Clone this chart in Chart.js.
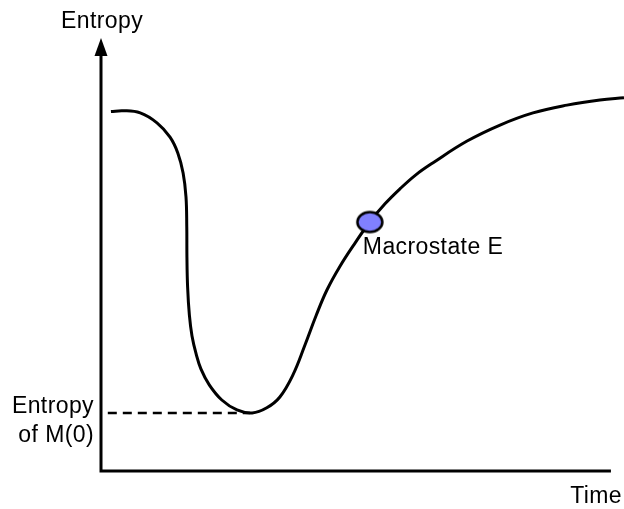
<!DOCTYPE html>
<html>
<head>
<meta charset="utf-8">
<script src="https://cdn.jsdelivr.net/npm/chart.js@4/dist/chart.umd.min.js"></script>
<style>
	html, body { margin:0; padding:0; background:#fff; }
	#wrap { width:624px; height:509px; }
</style>
</head>
<body>
<div id="wrap"><canvas id="entropyChart" width="624" height="509"></canvas></div>
<script>
// time / entropy values (0..100 arbitrary units)
const timeVals    = [1.9, 4.2, 7.5, 10.7, 13.2, 14.7, 15.7, 16.25, 16.4, 16.43, 16.56, 16.9, 17.4, 18.2, 19.1, 20.7, 23.1, 26.0, 28.9, 31.7, 34.2, 36.7, 39.0, 41.1, 43.2, 45.7, 48.6, 51.4, 54.3, 57.2, 60.2, 63.5, 70.0, 76.3, 82.6, 89.1, 95.4, 100];
const entropyVals = [83.0, 83.2, 82.7, 80.4, 77.1, 73.4, 68.8, 63.3, 56.4, 49.4, 42.5, 36.0, 31.2, 27.0, 23.6, 19.9, 16.4, 14.1, 13.4, 14.6, 17.1, 22.2, 29.1, 35.8, 41.8, 47.3, 52.7, 57.5, 61.7, 65.2, 68.4, 71.2, 76.2, 79.9, 82.7, 84.5, 85.7, 86.2];
// dashed guide to the minimum (entropy of M(0))
const minTime = [1.3, 28.5];
const minEntropy = [13.4, 13.4];
// macrostate E marker
const markerTime = [51.4];
const markerEntropy = [57.5];
const xAxisEnd = 97.5;

const FONT = '23px "Liberation Sans", Arial, Helvetica, sans-serif';

function toPoints(xs, ys){
	return xs.map(function(x, i){ return {x: x, y: ys[i]}; });
}

//타원 마커 (pointStyle 용 캔버스)
const dot = document.createElement('canvas');
dot.width = 30; dot.height = 25;
(function(){
	const c = dot.getContext('2d');
	c.beginPath();
	c.ellipse(15, 12.5, 12.5, 10, 0, 0, Math.PI*2);
	c.fillStyle = '#8080ff';
	c.fill();
	c.lineWidth = 2.5;
	c.strokeStyle = '#000';
	c.stroke();
})();

//축 + 화살표
const axesPlugin = {
	id: 'axesArrows',
	beforeDatasetsDraw(chart){
		const ctx = chart.ctx, a = chart.chartArea;
		const x0 = chart.scales.x.getPixelForValue(0);
		const y0 = chart.scales.y.getPixelForValue(0);
		const xEnd = chart.scales.x.getPixelForValue(xAxisEnd);
		ctx.save();
		ctx.strokeStyle = '#000';
		ctx.lineWidth = 3;
		ctx.beginPath();
		ctx.moveTo(x0, a.top + 14);
		ctx.lineTo(x0, y0);
		ctx.lineTo(xEnd, y0);
		ctx.stroke();
		ctx.fillStyle = '#000';
		ctx.beginPath();
		ctx.moveTo(x0, a.top);
		ctx.lineTo(x0 - 6.5, a.top + 18);
		ctx.lineTo(x0 + 6.5, a.top + 18);
		ctx.closePath();
		ctx.fill();
		ctx.restore();
	}
};

//텍스트 라벨
const labelPlugin = {
	id: 'labels',
	afterDatasetsDraw(chart){
		const ctx = chart.ctx;
		const x0 = chart.scales.x.getPixelForValue(0);
		const y0 = chart.scales.y.getPixelForValue(0);
		const yMin = chart.scales.y.getPixelForValue(minEntropy[0]);
		const mx = chart.scales.x.getPixelForValue(markerTime[0]);
		const my = chart.scales.y.getPixelForValue(markerEntropy[0]);
		ctx.save();
		ctx.font = FONT;
		ctx.letterSpacing = '0.4px';
		ctx.fillStyle = '#000';
		ctx.textBaseline = 'alphabetic';
		ctx.textAlign = 'center';
		ctx.fillText('Entropy', x0 + 1, 28);
		ctx.textAlign = 'right';
		ctx.fillText('Time', 622, y0 + 32);
		ctx.fillText('Entropy', x0 - 7, yMin);
		ctx.fillText('of M(0)', x0 - 7, yMin + 29);
		ctx.textAlign = 'left';
		ctx.fillText('Macrostate E', mx - 7, my + 32);
		ctx.restore();
	}
};

new Chart(document.getElementById('entropyChart'), {
	type: 'line',
	data: {
		datasets: [{
			data: toPoints(timeVals, entropyVals),
			borderColor: '#000',
			borderWidth: 3,
			pointRadius: 0,
			tension: 0.4,
			fill: false,
			order: 2
		},{
			data: toPoints(minTime, minEntropy),
			borderColor: '#000',
			borderWidth: 2.5,
			borderDash: [9, 6],
			pointRadius: 0,
			fill: false,
			order: 3
		},{
			type: 'scatter',
			data: toPoints(markerTime, markerEntropy),
			pointStyle: dot,
			pointRadius: 13,
			showLine: false,
			order: 1
		}]
	},
	options: {
		responsive: false,
		animation: false,
		layout: { autoPadding: false, padding: { left: 101, right: 0, top: 38, bottom: 38 } },
		scales: {
			x: { type: 'linear', min: 0, max: 100, display: false },
			y: { type: 'linear', min: 0, max: 100, display: false }
		},
		plugins: {
			legend: { display: false },
			tooltip: { enabled: false }
		}
	},
	plugins: [axesPlugin, labelPlugin]
});
</script>
</body>
</html>
